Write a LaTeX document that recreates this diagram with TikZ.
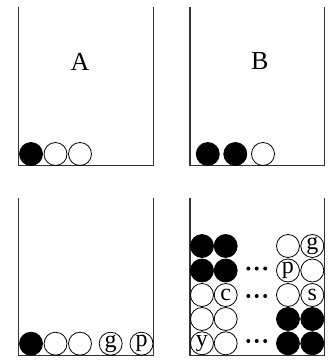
\documentclass[tikz,border=0pt]{standalone}
\usepackage{fontspec}
\setmainfont{Liberation Serif}
\begin{document}
\begin{tikzpicture}[x=1pt,y=-1pt,
  wall/.style={draw=black!80,line width=1.2pt},
  ball/.style={circle,draw=black,line width=0.8pt,minimum size=23pt,inner sep=0pt,font=\fontsize{24}{24}\selectfont},
  fball/.style={ball,fill=black},
  dotm/.style={circle,fill=black,minimum size=4pt,inner sep=0pt},
  biglabel/.style={font=\fontsize{26}{26}\selectfont,inner sep=0pt}]
\useasboundingbox (0,0) rectangle (328,360);
% containers
\draw[wall] (18.3,7.3) -- (18.3,165.8) -- (153.3,165.8) -- (153.3,7.3);
\draw[wall] (190,7.3) -- (190,165.8) -- (324.3,165.8) -- (324.3,7.3);
\draw[wall] (18.3,198.3) -- (18.3,355.5) -- (153.3,355.5) -- (153.3,198.3);
\draw[wall] (190,198.3) -- (190,355.5) -- (324.3,355.5) -- (324.3,198.3);
% labels
\node[biglabel] (A) at (80,61.5) {A};
\node[biglabel] (B) at (259.7,61) {B};
% container A
\node[fball] (a1) at (31,154) {};
\node[ball] (a2) at (55.5,154) {};
\node[ball] (a3) at (80,154) {};
% container B
\node[fball] (b1) at (207.8,154) {};
\node[fball] (b2) at (235.3,154) {};
\node[ball] (b3) at (263,154) {};
% container C
\node[fball] (c1) at (31,343.7) {};
\node[ball] (c2) at (55.5,343.7) {};
\node[ball] (c3) at (80,343.7) {};
\node[ball] (c4) at (110.7,343.7) {g};
\node[ball] (c5) at (141.5,343.7) {p};
% container D grid
\node[fball] (d11) at (202,246) {};
\node[fball] (d12) at (225.7,246) {};
\node[ball] (d13) at (288,246) {};
\node[ball] (d14) at (312.3,246) {g};
\node[fball] (d21) at (202,270.5) {};
\node[fball] (d22) at (225.7,270.5) {};
\node[ball] (d23) at (288,270.5) {p};
\node[ball] (d24) at (312.3,270.5) {};
\node[ball] (d31) at (202,295) {};
\node[ball] (d32) at (225.7,295) {c};
\node[ball] (d33) at (288,295) {};
\node[ball] (d34) at (312.3,295) {s};
\node[ball] (d41) at (202,319) {};
\node[ball] (d42) at (225.7,319) {};
\node[fball] (d43) at (288,319) {};
\node[fball] (d44) at (312.3,319) {};
\node[ball] (d51) at (202,343.3) {y};
\node[ball] (d52) at (225.7,343.3) {};
\node[fball] (d53) at (288,343.3) {};
\node[fball] (d54) at (312.3,343.3) {};
% dots
\foreach \r/\y in {2/268.5,3/296,5/341} {
  \node[dotm] (e\r a) at (248.3,\y) {};
  \node[dotm] (e\r b) at (256.7,\y) {};
  \node[dotm] (e\r c) at (265.2,\y) {};
}
\end{tikzpicture}
\end{document}
